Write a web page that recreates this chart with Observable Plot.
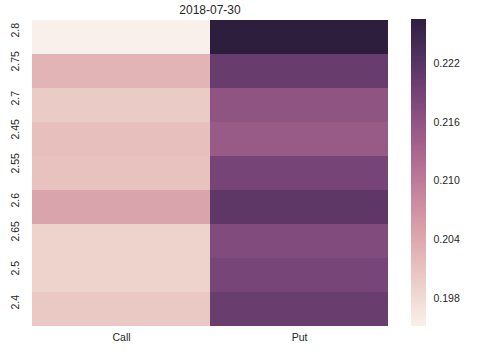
<!DOCTYPE html>
<html><head><meta charset="utf-8">
<script src="https://cdn.jsdelivr.net/npm/d3@7"></script>
<script src="https://cdn.jsdelivr.net/npm/@observablehq/plot@0.6"></script>
<style>
html,body{margin:0;padding:0;background:#fff;}
#wrap{position:relative;width:481px;height:356px;overflow:hidden;font-family:"Liberation Sans",Arial,sans-serif;}
#wrap svg{position:absolute;top:0;}
</style></head><body><div id="wrap"></div>
<script>
const title = "2018-07-30";
const strikes = ["2.8", "2.75", "2.7", "2.45", "2.55", "2.6", "2.65", "2.5", "2.4"];
const types = ["Call", "Put"];
const callValues = [0.1951, 0.2025, 0.1997, 0.2011, 0.2008, 0.2045, 0.1988, 0.1987, 0.2001];
const putValues  = [0.2265, 0.2202, 0.2159, 0.2149, 0.2187, 0.2213, 0.2174, 0.2186, 0.2201];
const colorTicks = [0.198, 0.204, 0.210, 0.216, 0.222];

const table = strikes.flatMap((s, i) => [
  {strike: s, type: types[0], value: callValues[i]},
  {strike: s, type: types[1], value: putValues[i]}
]);
const [vmin, vmax] = d3.extent(table, d => d.value);

// seaborn cubehelix_palette(light=.95, dark=.15, start=0, rot=.4, hue=.8)
function cubehelix(t) {
  const x = 0.95 - 0.8 * t;
  const a = 0.4 * x * (1 - x);
  const phi = 2 * Math.PI * 0.4 * x;
  const c = Math.cos(phi), s = Math.sin(phi);
  const cl = v => Math.round(255 * Math.max(0, Math.min(1, v)));
  const r = x + a * (-0.14861 * c + 1.78277 * s);
  const g = x + a * (-0.29227 * c - 0.90649 * s);
  const b = x + a * (1.97294 * c);
  return `rgb(${cl(r)},${cl(g)},${cl(b)})`;
}
const colorOpts = {type: "linear", domain: [vmin, vmax], interpolate: cubehelix};
const font = '"Liberation Sans", Arial, sans-serif';
const ink = "#262626";

const main = Plot.plot({
  width: 400, height: 356,
  marginLeft: 31, marginRight: 12, marginTop: 19, marginBottom: 30,
  style: {fontFamily: font, fontSize: "10.5px", color: ink, background: "transparent"},
  x: {domain: types, padding: 0, label: null, tickSize: 0, tickPadding: 7},
  y: {domain: strikes, padding: 0, label: null, axis: null},
  color: colorOpts,
  marks: [
    Plot.cell(table, {x: "type", y: "strike", fill: "value", inset: 0, shapeRendering: "crispEdges"}),
    Plot.text(strikes, {y: d => d, text: d => d, frameAnchor: "left", dx: -16, rotate: -90, fill: ink}),
    Plot.text([title], {text: d => d, frameAnchor: "top", lineAnchor: "middle", dy: -9.5, fontSize: 12, fill: ink})
  ]
});

const nSteps = 256;
const steps = d3.range(nSteps).map(i => vmin + (vmax - vmin) * i / nSteps);
const cbar = Plot.plot({
  width: 70, height: 356,
  marginLeft: 0, marginRight: 55, marginTop: 19, marginBottom: 30,
  style: {fontFamily: font, fontSize: "10.5px", color: ink, background: "transparent"},
  x: {axis: null, domain: [0, 1]},
  y: {domain: [vmin, vmax], label: null},
  color: colorOpts,
  marks: [
    Plot.rect(steps, {x1: 0, x2: 1, y1: d => d, y2: d => d + (vmax - vmin) / nSteps, fill: d => d, shapeRendering: "crispEdges"}),
    Plot.axisY(colorTicks, {anchor: "right", tickSize: 0, tickPadding: 7, tickFormat: d3.format(".3f"), label: null})
  ]
});

const wrap = document.getElementById("wrap");
main.style.left = "0px";
cbar.style.left = "411px";
wrap.appendChild(main);
wrap.appendChild(cbar);
</script>
</body></html>
